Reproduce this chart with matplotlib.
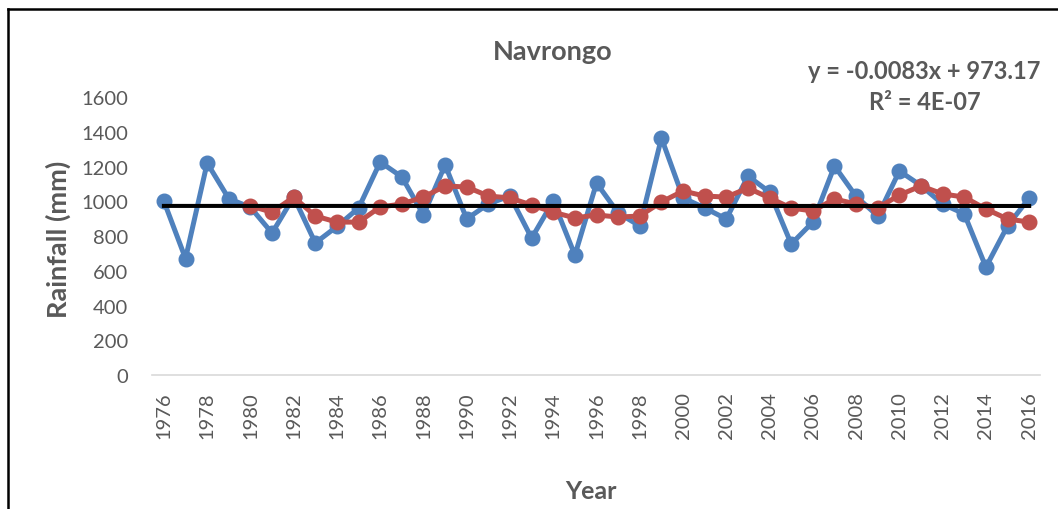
import matplotlib
matplotlib.use("Agg")
import matplotlib.pyplot as plt
from matplotlib.lines import Line2D
import numpy as np

years = list(range(1976, 2017))
rainfall = [1000, 670, 1220, 1015, 965, 817, 1025, 760, 855, 961,
            1226, 1140, 921, 1209, 898, 985, 1030, 788, 1001, 690,
            1105, 932, 858, 1364, 1020, 961, 898, 1145, 1053, 754,
            880, 1203, 1028, 915, 1174, 1090, 984, 927, 621, 858, 1019]
ma_years = list(range(1980, 2017))
moving_avg = [973, 937, 1024, 915, 880, 880, 967, 984, 1024, 1088,
              1082, 1030, 1019, 978, 937, 904, 921, 909, 915, 996,
              1059, 1030, 1024, 1076, 1019, 961, 944, 1013, 984, 961,
              1036, 1088, 1042, 1024, 955, 898, 880]
trend_slope = -0.0083
trend_intercept = 973.17
title = "Navrongo"
eq_text = "y = -0.0083x + 973.17"
r2_text = "R² = 4E-07"
yticks = [0, 200, 400, 600, 800, 1000, 1200, 1400, 1600]
xticks = list(range(1976, 2017, 2))

plt.rcParams['font.family'] = ['Lato', 'DejaVu Sans']
txt = '#595959'

fig = plt.figure(figsize=(10.58, 5.10), dpi=100)
W, H = 1058, 510
ax = fig.add_axes([152 / W, 1 - 376 / H, (1040 - 152) / W, (376 - 98) / H])

blue = '#4F81BD'
red = '#C0504D'
ax.plot(years, rainfall, color=blue, lw=3.6, marker='o', ms=10.5, zorder=3)
ax.plot(ma_years, moving_avg, color=red, lw=3.6, marker='o', ms=10.5, zorder=4)
idx = np.arange(1, len(years) + 1)
ax.plot(years, trend_slope * idx + trend_intercept, color='black', lw=2.9, zorder=5)

ax.set_xlim(1975.45, 2016.5)
ax.set_ylim(0, 1600)
ax.set_yticks(yticks)
ax.set_xticks(xticks)
ax.set_xticklabels([str(x) for x in xticks], rotation=90)
ax.tick_params(axis='both', length=0, labelsize=14.5, labelcolor=txt)
ax.tick_params(axis='y', pad=17)
ax.tick_params(axis='x', pad=11.5)
for s in ['top', 'right', 'left']:
    ax.spines[s].set_visible(False)
ax.spines['bottom'].set_color('#D9D9D9')
ax.spines['bottom'].set_linewidth(1.2)
ax.spines['bottom'].set_zorder(1)

fig.text(553 / W, 1 - 52 / H, title, ha='center', va='center', fontsize=19.5,
         fontweight='bold', color=txt)
fig.text(924 / W, 1 - 72 / H, eq_text, ha='center', va='center', fontsize=17,
         fontweight='bold', color=txt)
fig.text(925 / W, 1 - 103 / H, r2_text, ha='center', va='center', fontsize=17,
         fontweight='bold', color=txt)
fig.text(58 / W, 1 - 239 / H, "Rainfall (mm)", ha='center', va='center',
         rotation=90, fontsize=19.5, fontweight='bold', color=txt)
fig.text(591 / W, 1 - 492 / H, "Year", ha='center', va='center', fontsize=18,
         fontweight='bold', color=txt)

fig.add_artist(Line2D([8 / W, 8 / W], [0, 1 - 10 / H], color='black', lw=1.8,
                      transform=fig.transFigure))
fig.add_artist(Line2D([8 / W, 1], [1 - 10 / H, 1 - 10 / H], color='black', lw=1.8,
                      transform=fig.transFigure))

fig.savefig('out.png', dpi=100)
